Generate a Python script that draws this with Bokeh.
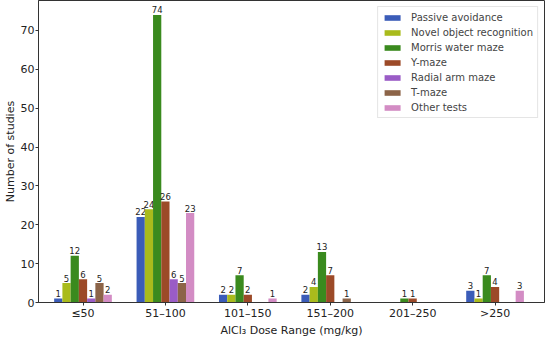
from bokeh.plotting import figure
from bokeh.models import ColumnDataSource, FixedTicker, Range1d, Legend, LegendItem
from bokeh.embed import file_html
from bokeh.resources import INLINE
from bokeh.core.properties import value

categories = ["≤50", "51–100", "101–150", "151–200", "201–250", ">250"]
series = ["Passive avoidance", "Novel object recognition", "Morris water maze",
          "Y-maze", "Radial arm maze", "T-maze", "Other tests"]
passive_avoidance = [1, 22, 2, 2, 0, 3]
novel_object = [5, 24, 2, 4, 0, 1]
morris_water = [12, 74, 7, 13, 1, 7]
y_maze = [6, 26, 2, 7, 1, 4]
radial_arm = [1, 6, 0, 0, 0, 0]
t_maze = [5, 5, 0, 1, 0, 0]
other_tests = [2, 23, 1, 0, 0, 3]
values = [passive_avoidance, novel_object, morris_water, y_maze, radial_arm, t_maze, other_tests]
colors = ["#3b5cb8", "#a9bb1c", "#3a8a1e", "#9c4a28", "#9a5cc6", "#8c6448", "#d38cc4"]

FONT = "DejaVu Sans"
bar_w = 0.1

p = figure(width=548, height=339, output_backend="svg", toolbar_location=None,
           x_range=Range1d(-0.54, 5.6), y_range=Range1d(0, 77.7),
           min_border_left=34, min_border_right=4, min_border_top=0, min_border_bottom=0)
p.xgrid.visible = False
p.ygrid.visible = False
p.outline_line_color = "#333333"
p.outline_line_width = 1
p.background_fill_color = "white"

items = []
n = len(series)
for i, (name, vals, col) in enumerate(zip(series, values, colors)):
    xs = [g + (i - (n - 1) / 2) * bar_w for g in range(len(categories))]
    src = ColumnDataSource(dict(x=xs, top=vals))
    r = p.vbar(x="x", top="top", width=bar_w, source=src, fill_color=col, line_color=None)
    items.append(LegendItem(label=name, renderers=[r]))
    lx = [x for x, v in zip(xs, vals) if v > 0]
    lv = [v for v in vals if v > 0]
    lsrc = ColumnDataSource(dict(x=lx, y=[v + 0.4 for v in lv], t=[str(v) for v in lv]))
    p.text(x="x", y="y", text="t", source=lsrc, text_align="center", text_baseline="bottom",
           text_font=value(FONT), text_font_size="8.5px", text_color="#222222")

legend = Legend(items=items, location="top_right")
legend.label_text_font = FONT
legend.label_text_font_size = "10px"
legend.glyph_width = 20
legend.glyph_height = 7
legend.label_height = 12
legend.spacing = 3
legend.padding = 4
legend.margin = 6
legend.label_standoff = 9
legend.border_line_color = "#cccccc"
legend.border_line_width = 1
legend.background_fill_alpha = 0.9
p.add_layout(legend, "center")

p.xaxis.ticker = FixedTicker(ticks=list(range(len(categories))))
p.xaxis.major_label_overrides = {i: c for i, c in enumerate(categories)}
p.yaxis.ticker = FixedTicker(ticks=[0, 10, 20, 30, 40, 50, 60, 70])
for ax in (p.xaxis, p.yaxis):
    ax.axis_line_color = "#333333"
    ax.major_tick_line_color = "#333333"
    ax.minor_tick_line_color = None
    ax.major_tick_out = 3
    ax.major_tick_in = 0
    ax.major_label_text_font = FONT
    ax.major_label_text_font_size = "11px"
    ax.major_label_text_color = "#222222"
    ax.major_label_standoff = 1
    ax.axis_label_text_font = FONT
    ax.axis_label_text_font_size = "11px"
    ax.axis_label_text_font_style = "normal"
    ax.axis_label_text_color = "#222222"
    ax.axis_label_standoff = 1
p.xaxis.axis_label = "AlCl₃ Dose Range (mg/kg)"
p.yaxis.axis_label = "Number of studies"

open("out.html", "w").write(file_html(p, INLINE))
